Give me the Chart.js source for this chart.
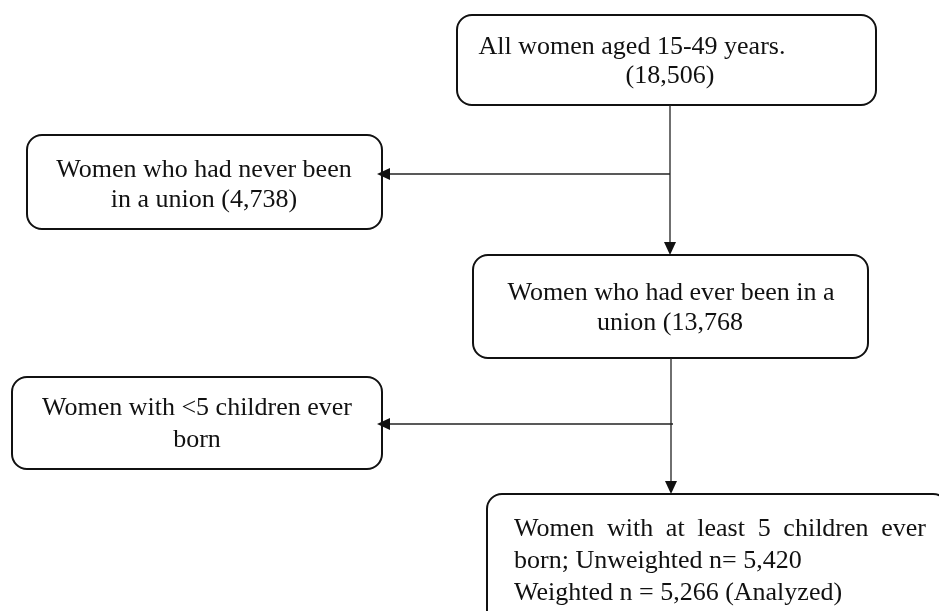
<!DOCTYPE html>
<html>
<head>
<meta charset="utf-8">
<script src="https://cdn.jsdelivr.net/npm/chart.js@4.4.1/dist/chart.umd.min.js"></script>
<style>
  html, body { margin: 0; padding: 0; background: #fff; }
  canvas { display: block; }
</style>
</head>
<body>
<canvas id="flow-chart" width="939" height="611"></canvas>
<script>
// Flow of the sample selection (counts)
const stageCounts = [18506, 4738, 13768, null, 5420];
const weightedCount = 5266;
const fmt = n => n.toLocaleString('en-US');

const stageLines = [
    ['All women aged 15-49 years.', '(' + fmt(stageCounts[0]) + ')'],
    ['Women who had never been', 'in a union (' + fmt(stageCounts[1]) + ')'],
    ['Women who had ever been in a', 'union (' + fmt(stageCounts[2])],
    ['Women with <5 children ever', 'born'],
    ['Women with at least 5 children ever', 'born; Unweighted n= ' + fmt(stageCounts[4]),
     'Weighted n = ' + fmt(weightedCount) + ' (Analyzed)'],
];

// layout in axis units (axes are 0..939 x 0..611, y downwards)
const boxes = [
    { x0: 457, y0: 15, x1: 876, y1: 105, lineX: [632, 670], lineY: [47, 76], align: 'center' },
    { x0: 27, y0: 135, x1: 382, y1: 229, lineX: [204, 204], lineY: [170, 200], align: 'center' },
    { x0: 473, y0: 255, x1: 868, y1: 358, lineX: [671, 670], lineY: [293, 323], align: 'center' },
    { x0: 12, y0: 377, x1: 382, y1: 469, lineX: [197, 197], lineY: [408, 440], align: 'center' },
    { x0: 487, y0: 494, x1: 948, y1: 630, lineX: [514, 514, 514], lineY: [529, 561, 593], align: 'left', justifyWidth: 412 },
];

// connectors: [fromX, fromY, toX, toY]
const arrows = [
    [670, 105, 670, 255],
    [670, 174, 377, 174],
    [671, 358, 671, 494],
    [673, 424, 377, 424],
];

const flowPlugin = {
    id: 'flow',
    afterDraw(chart) {
        const ctx = chart.ctx;
        const sx = chart.scales.x, sy = chart.scales.y;
        const px = v => sx.getPixelForValue(v);
        const py = v => sy.getPixelForValue(v);

        ctx.save();
        // boxes
        ctx.strokeStyle = '#111';
        ctx.lineWidth = 2;
        boxes.forEach(b => {
            const x = px(b.x0), y = py(b.y0);
            const w = px(b.x1) - x, h = py(b.y1) - y;
            ctx.beginPath();
            ctx.roundRect(x, y, w, h, 15);
            ctx.stroke();
        });

        // connectors with arrow heads
        ctx.strokeStyle = '#222';
        ctx.fillStyle = '#111';
        ctx.lineWidth = 1.3;
        arrows.forEach(a => {
            const x0 = px(a[0]), y0 = py(a[1]), x1 = px(a[2]), y1 = py(a[3]);
            const ang = Math.atan2(y1 - y0, x1 - x0);
            const len = 13, half = 6;
            ctx.beginPath();
            ctx.moveTo(x0, y0);
            ctx.lineTo(x1 - Math.cos(ang) * len, y1 - Math.sin(ang) * len);
            ctx.stroke();
            ctx.beginPath();
            ctx.moveTo(x1, y1);
            ctx.lineTo(x1 - Math.cos(ang) * len - Math.sin(ang) * half, y1 - Math.sin(ang) * len + Math.cos(ang) * half);
            ctx.lineTo(x1 - Math.cos(ang) * len + Math.sin(ang) * half, y1 - Math.sin(ang) * len - Math.cos(ang) * half);
            ctx.closePath();
            ctx.fill();
        });

        // texts
        ctx.fillStyle = '#111';
        ctx.font = '26px "Liberation Serif", "Times New Roman", serif';
        ctx.textBaseline = 'middle';
        boxes.forEach((b, i) => {
            stageLines[i].forEach((line, j) => {
                const x = px(b.lineX[j]), y = py(b.lineY[j]);
                if (b.justifyWidth && j === 0) {
                    // justified first line
                    const words = line.split(' ');
                    const wordsW = words.reduce((s, w) => s + ctx.measureText(w).width, 0);
                    const gap = (b.justifyWidth - wordsW) / (words.length - 1);
                    let cx = x;
                    ctx.textAlign = 'left';
                    words.forEach(w => {
                        ctx.fillText(w, cx, y);
                        cx += ctx.measureText(w).width + gap;
                    });
                } else {
                    ctx.textAlign = b.align;
                    ctx.fillText(line, x, y);
                }
            });
        });
        ctx.restore();
    }
};

new Chart(document.getElementById('flow-chart').getContext('2d'), {
    type: 'scatter',
    data: {
        datasets: [{
            data: boxes.map(b => ({ x: (b.x0 + b.x1) / 2, y: (b.y0 + b.y1) / 2 })),
            pointRadius: 0,
        }],
    },
    options: {
        responsive: false,
        animation: false,
        layout: { padding: 0 },
        plugins: { legend: { display: false }, tooltip: { enabled: false } },
        scales: {
            x: { type: 'linear', min: 0, max: 939, display: false },
            y: { type: 'linear', min: 0, max: 611, reverse: true, display: false },
        },
    },
    plugins: [flowPlugin],
});
</script>
</body>
</html>
